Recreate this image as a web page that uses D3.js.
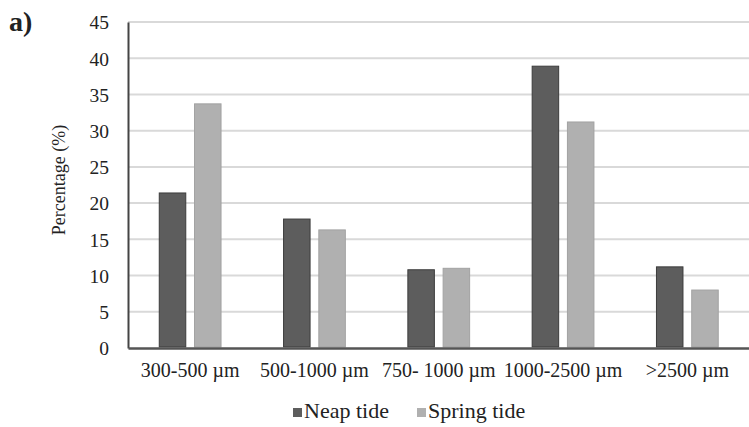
<!DOCTYPE html>
<html><head><meta charset="utf-8">
<script src="https://cdn.jsdelivr.net/npm/d3@7"></script>
<style>body{margin:0;background:#fff}svg{display:block}text{font-family:"Liberation Serif","Times New Roman",serif;fill:#222}</style>
</head><body><svg id="c" width="749" height="427"></svg>
<script>
const categories = ["300-500 µm", "500-1000 µm", "750- 1000 µm", "1000-2500 µm", ">2500 µm"];
const seriesNames = ["Neap tide", "Spring tide"];
const neapTide = [21.4, 17.8, 10.8, 38.9, 11.2];
const springTide = [33.7, 16.3, 11.0, 31.2, 8.0];
const yTicks = [0, 5, 10, 15, 20, 25, 30, 35, 40, 45];
const colors = ["#5d5d5d", "#b0b0b0"];
const strokes = ["#3c3c3c", "#a2a2a2"];

(function () {
const svg = d3.select("#c");
const mLeft = 128, mRight = 749.5, mTop = 22, mBottom = 348;
const x0 = d3.scaleBand().domain(categories).range([mLeft, mRight]).paddingInner(0.495).paddingOuter(0.2475);
const x1 = d3.scaleBand().domain(seriesNames).range([0, x0.bandwidth()]).paddingInner(0.22).paddingOuter(0);
const y = d3.scaleLinear().domain([0, 45]).range([mBottom, mTop]);

// gridlines
svg.append("g").selectAll("line").data(yTicks.filter(d => d > 0)).join("line")
  .attr("x1", mLeft).attr("x2", mRight).attr("y1", d => y(d)).attr("y2", d => y(d))
  .attr("stroke", "#d9d9d9").attr("stroke-width", 2);

// bars
const data = categories.map((c, i) => ({c, vals: [neapTide[i], springTide[i]]}));
const g = svg.append("g").selectAll("g").data(data).join("g")
  .attr("transform", d => `translate(${x0(d.c)},0)`);
g.selectAll("rect").data(d => d.vals.map((v, j) => ({v, j}))).join("rect")
  .attr("x", d => x1(seriesNames[d.j]) + 0.5).attr("width", x1.bandwidth() - 1)
  .attr("y", d => y(d.v)).attr("height", d => y(0) - y(d.v) - 1)
  .attr("fill", d => colors[d.j]).attr("stroke", d => strokes[d.j]).attr("stroke-width", 1);

// y axis
const ya = svg.append("g").attr("transform", `translate(${mLeft},0)`)
  .call(d3.axisLeft(y).tickValues(yTicks).tickSize(0).tickPadding(19));
ya.select(".domain").attr("stroke", "#444").attr("stroke-width", 2);
ya.selectAll("text").style("font-family", '"Liberation Serif",serif').style("font-size", "19.5px").attr("fill", "#222").attr("dy", "0.35em");

// x axis
const xa = svg.append("g").attr("transform", `translate(0,${mBottom})`)
  .call(d3.axisBottom(x0).tickSize(0).tickPadding(15));
xa.select(".domain").attr("stroke", "#555").attr("stroke-width", 2.5);
xa.selectAll("text").style("font-family", '"Liberation Serif",serif').style("font-size", "20px").attr("fill", "#222");

// y title
svg.append("text").attr("transform", "translate(65,180) rotate(-90)")
  .attr("text-anchor", "middle").style("font-size", "18px").text("Percentage (%)");

// panel label
svg.append("text").attr("x", 9).attr("y", 31).style("font-size", "28px").style("font-weight", "bold").text("a)");

// legend
const legX = [293, 417];
const lg = svg.append("g").selectAll("g").data(seriesNames).join("g")
  .attr("transform", (d, i) => `translate(${legX[i]},408)`);
lg.append("rect").attr("width", 9).attr("height", 9).attr("fill", (d, i) => colors[i]);
lg.append("text").attr("x", 11).attr("y", 9.5).style("font-size", "22px").text(d => d);
})();
</script></body></html>
